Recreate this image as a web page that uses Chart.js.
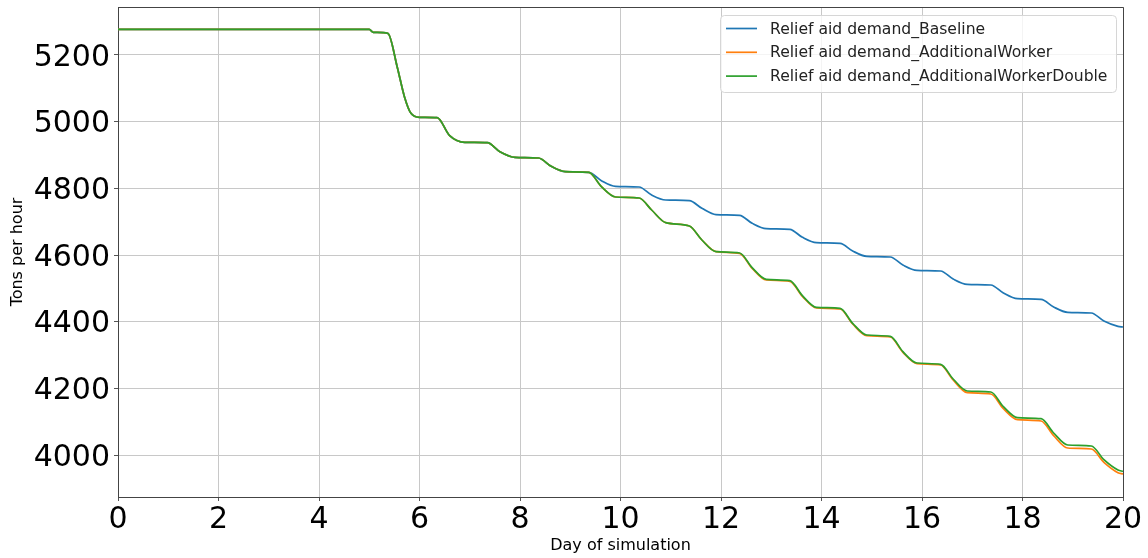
<!DOCTYPE html>
<html>
<head>
<meta charset="utf-8">
<script src="https://cdn.jsdelivr.net/npm/chart.js@4/dist/chart.umd.min.js"></script>
<style>
  html, body { margin: 0; padding: 0; background: #fff; }
  #wrap { width: 1148px; height: 558px; }
</style>
</head>
<body>
<div id="wrap"><canvas id="demandChart" width="1148" height="558"></canvas></div>
<script>
// Day of simulation (x values of the sampled points)
const days = [0, 5.0, 5.08, 5.37, 5.56, 5.7, 5.83, 6.0,
  6.35, 6.6, 6.9, 7.35, 7.6, 7.9, 8.37, 8.62, 8.9, 9.37, 9.62, 9.9,
  10.37, 10.62, 10.9, 11.37, 11.62, 11.9, 12.37, 12.62, 12.9, 13.37, 13.62, 13.9,
  14.37, 14.62, 14.9, 15.37, 15.62, 15.9, 16.37, 16.62, 16.9, 17.37, 17.62, 17.9,
  18.37, 18.62, 18.9, 19.37, 19.62, 19.9, 20];

// Tons per hour for each scenario
const baseline = [5277, 5277, 5268, 5265, 5162, 5075, 5025, 5013,
  5012, 4958, 4938, 4937, 4910, 4893, 4891, 4866, 4850, 4848, 4823, 4806,
  4804, 4780, 4765, 4763, 4740, 4721, 4719, 4695, 4679, 4677, 4653, 4637,
  4635, 4612, 4596, 4594, 4570, 4554, 4552, 4528, 4512, 4510, 4486, 4469,
  4467, 4444, 4428, 4426, 4402, 4386, 4384];

const additionalWorker = [5277, 5277, 5268, 5265, 5162, 5075, 5025, 5013,
  5012, 4958, 4938, 4937, 4910, 4893, 4891, 4866, 4850, 4848, 4805, 4774,
  4771, 4735, 4697, 4687, 4645, 4610, 4605, 4560, 4525, 4521, 4476, 4441,
  4438, 4393, 4358, 4354, 4308, 4274, 4270, 4225, 4187, 4183, 4139, 4106,
  4102, 4058, 4021, 4018, 3978, 3947, 3943];

const additionalWorkerDouble = [5277, 5277, 5268, 5265, 5162, 5075, 5025, 5013,
  5012, 4958, 4938, 4937, 4910, 4893, 4891, 4866, 4850, 4848, 4805, 4774,
  4771, 4735, 4697, 4687, 4645, 4610, 4606, 4562, 4527, 4523, 4478, 4443,
  4440, 4395, 4360, 4356, 4310, 4276, 4272, 4228, 4192, 4189, 4145, 4112,
  4109, 4066, 4030, 4027, 3986, 3955, 3951];

const seriesNames = ['Relief aid demand_Baseline', 'Relief aid demand_AdditionalWorker', 'Relief aid demand_AdditionalWorkerDouble'];
const seriesColors = ['#1f77b4', '#ff7f0e', '#2ca02c'];
const xTicks = [0, 2, 4, 6, 8, 10, 12, 14, 16, 18, 20];
const yTicks = [4000, 4200, 4400, 4600, 4800, 5000, 5200];

const FONT = "'DejaVu Sans', sans-serif";
const toPoints = (vals) => days.map((d, i) => ({ x: d, y: vals[i] }));

// top/right spines plus a matplotlib-like legend box
const framePlugin = {
  id: 'frame',
  afterDraw(chart) {
    const ctx = chart.ctx;
    const a = chart.chartArea;
    ctx.save();
    ctx.strokeStyle = '#444';
    ctx.lineWidth = 1;
    ctx.beginPath();
    ctx.moveTo(a.left, a.top + 0.5);
    ctx.lineTo(a.right + 0.5, a.top + 0.5);
    ctx.lineTo(a.right + 0.5, a.bottom);
    ctx.stroke();

    // legend
    const bx = 720.5, by = 15.5, bw = 396, bh = 77, r = 4;
    ctx.beginPath();
    ctx.roundRect(bx, by, bw, bh, r);
    ctx.fillStyle = 'rgba(255,255,255,0.8)';
    ctx.fill();
    ctx.strokeStyle = '#d6d6d6';
    ctx.stroke();
    ctx.font = '15.6px ' + FONT;
    ctx.textBaseline = 'middle';
    ctx.textAlign = 'left';
    chart.data.datasets.forEach((ds, i) => {
      const y = 28.5 + i * 23.8;
      ctx.strokeStyle = ds.borderColor;
      ctx.lineWidth = 1.7;
      ctx.beginPath();
      ctx.moveTo(726, y);
      ctx.lineTo(757, y);
      ctx.stroke();
      ctx.fillStyle = '#222';
      ctx.fillText(ds.label, 770, y + 1);
    });
    ctx.restore();
  }
};

new Chart(document.getElementById('demandChart'), {
  type: 'line',
  data: {
    datasets: [0, 1, 2].map(i => ({
      label: seriesNames[i],
      data: toPoints([baseline, additionalWorker, additionalWorkerDouble][i]),
      borderColor: seriesColors[i],
      backgroundColor: seriesColors[i],
      borderWidth: 1.7,
      pointRadius: 0,
      cubicInterpolationMode: 'monotone',
      order: 3 - i
    }))
  },
  options: {
    responsive: false,
    animation: false,
    layout: { padding: { top: 7, right: 25, left: 0, bottom: 0 } },
    plugins: { legend: { display: false }, tooltip: { enabled: false } },
    scales: {
      x: {
        type: 'linear',
        min: 0,
        max: 20,
        afterBuildTicks: (s) => { s.ticks = xTicks.map(v => ({ value: v })); },
        afterFit: (s) => { s.height = 61; s.paddingLeft = 0; s.paddingRight = 0; },
        grid: { color: '#c8c8c8', lineWidth: 1, tickColor: '#555', tickLength: 4 },
        border: { color: '#444', width: 1 },
        ticks: { color: '#000', font: { family: FONT, size: 30 }, padding: 1, maxRotation: 0, callback: (v) => String(v) },
        title: { display: true, text: 'Day of simulation', color: '#000', font: { family: FONT, size: 16 }, padding: { top: 0, bottom: 3 } }
      },
      y: {
        min: 3874,
        max: 5344,
        afterBuildTicks: (s) => { s.ticks = yTicks.map(v => ({ value: v })); },
        afterFit: (s) => { s.width = 118; s.paddingTop = 0; s.paddingBottom = 0; },
        grid: { color: '#c8c8c8', lineWidth: 1, tickColor: '#555', tickLength: 4 },
        border: { color: '#444', width: 1 },
        ticks: { color: '#000', font: { family: FONT, size: 30 }, padding: 4, labelOffset: 3, callback: (v) => String(v) },
        title: { display: true, text: 'Tons per hour', color: '#000', font: { family: FONT, size: 16 }, padding: { top: 8, bottom: 0 } }
      }
    }
  },
  plugins: [framePlugin]
});
</script>
</body>
</html>
